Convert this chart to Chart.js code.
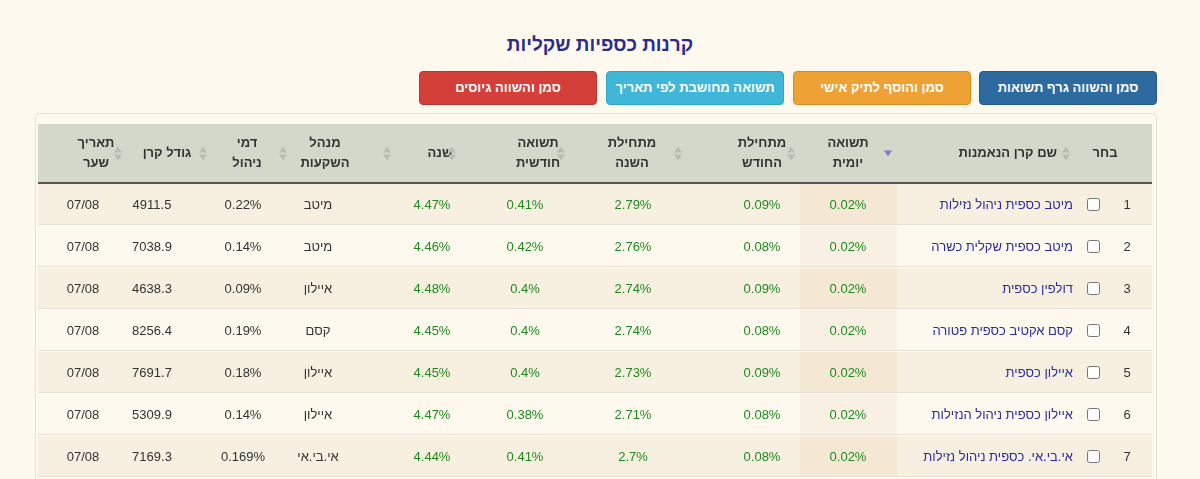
<!DOCTYPE html>
<html><head><meta charset="utf-8">
<script src="https://cdn.jsdelivr.net/npm/chart.js@4"></script>
<style>
body{margin:0;background:#fdf9ee;font-family:Arial,"Liberation Sans",sans-serif;width:1200px;height:479px;overflow:hidden;position:relative}
#title{position:absolute;top:34px;left:0;width:1200px;text-align:center;color:#2b2b8c;font-weight:bold;font-size:19px;direction:rtl}
.btn{position:absolute;top:71px;height:32px;width:176px;border-radius:4px;color:#fff;font-weight:bold;font-size:13px;line-height:32px;text-align:center;direction:rtl}
#box{position:absolute;left:35px;top:113px;width:1120px;height:380px;border:1px solid #e8e2d0;border-radius:4px;background:#fdf9ee}
#wrap{position:absolute;left:38px;top:124px;width:1114px;height:355px}
</style></head><body>
<div id="title">קרנות כספיות שקליות</div>
<div class="btn" style="left:979px;background:#2d6aa0;border:1px solid #255a88">סמן והשווה גרף תשואות</div>
<div class="btn" style="left:793px;background:#eea236;border:1px solid #d58f20">סמן והוסף לתיק אישי</div>
<div class="btn" style="left:606px;background:#40b7d8;border:1px solid #30a5c5">תשואה מחושבת לפי תאריך</div>
<div class="btn" style="left:419px;background:#d43f3a;border:1px solid #b83530">סמן והשווה גיוסים</div>
<div id="box"></div>
<div id="wrap"><canvas id="c"></canvas></div>
<script>
const headers=["בחר","שם קרן הנאמנות","תשואה|יומית","מתחילת|החודש","מתחילת|השנה","תשואה|חודשית","שנה","מנהל|השקעות","דמי|ניהול","גודל קרן","תאריך|שער"];
const fundNames=["מיטב כספית ניהול נזילות","מיטב כספית שקלית כשרה","דולפין כספית","קסם אקטיב כספית פטורה","איילון כספית","איילון כספית ניהול הנזילות","אי.בי.אי. כספית ניהול נזילות"];
const dailyReturn=["0.02%","0.02%","0.02%","0.02%","0.02%","0.02%","0.02%"];
const monthToDate=["0.09%","0.08%","0.09%","0.08%","0.09%","0.08%","0.08%"];
const yearToDate=["2.79%","2.76%","2.74%","2.74%","2.73%","2.71%","2.7%"];
const monthlyReturn=["0.41%","0.42%","0.4%","0.4%","0.4%","0.38%","0.41%"];
const yearReturn=["4.47%","4.46%","4.48%","4.45%","4.45%","4.47%","4.44%"];
const managers=["מיטב","מיטב","איילון","קסם","איילון","איילון","אי.בי.אי"];
const fees=["0.22%","0.14%","0.09%","0.19%","0.18%","0.14%","0.169%"];
const fundSize=["4911.5","7038.9","4638.3","8256.4","7691.7","5309.9","7169.3"];
const rateDate=["07/08","07/08","07/08","07/08","07/08","07/08","07/08"];

// layout (x-scale units = px from table left)
const cellX=[1089,1035,810,724,595,487,394,280,205,114,45];
const headX=[1067,1019,810,724,594,500,402,287,209,129,58];
const iconX=[null,1028,850,753,640,523,414,349,245,165,80];
const sortedCol=[762,859];
const headH=59,rowH=42;
const rows=fundNames.map((n,i)=>[String(i+1),n,dailyReturn[i],monthToDate[i],yearToDate[i],monthlyReturn[i],yearReturn[i],managers[i],fees[i],fundSize[i],rateDate[i]]);
const colColor=["#333","#2b2ba0","#1e8a1e","#1e8a1e","#1e8a1e","#1e8a1e","#1e8a1e","#333","#333","#333","#333"];

const tablePlugin={id:'tbl',beforeDatasetsDraw(ch){
  const c=ch.ctx,x=ch.scales.x,y=ch.scales.y;
  const X=v=>x.getPixelForValue(v),Y=v=>y.getPixelForValue(v);
  c.save();
  c.fillStyle="#d3d8cb";c.fillRect(X(0),Y(0),X(1114)-X(0),Y(headH)-Y(0));
  c.fillStyle="#555";c.fillRect(X(0),Y(headH)-1,X(1114)-X(0),2);
  rows.forEach((r,i)=>{
    const y0=Y(headH+i*rowH),y1=Y(headH+(i+1)*rowH);
    c.fillStyle=i%2===0?"#f7f0e1":"#fdf9ef";c.fillRect(X(0),y0+1,X(1114)-X(0),y1-y0-1);
    c.fillStyle=i%2===0?"#f4e8d5":"#f8f0e2";c.fillRect(X(sortedCol[0]),y0+1,X(sortedCol[1])-X(sortedCol[0]),y1-y0-1);
    c.fillStyle="#e6e2d8";c.fillRect(X(0),y1-1,X(1114)-X(0),1);
    const ym=(y0+y1)/2+1;
    c.textBaseline="middle";c.font="13px Arial, 'Liberation Sans'";
    r.forEach((t,j)=>{
      const cx=X(cellX[j]);
      if(j===0){
        c.fillStyle="#333";c.textAlign="center";c.fillText(t,cx,ym);
        c.strokeStyle="#777";c.lineWidth=1;c.beginPath();c.roundRect(X(1049)+0.5,ym-6.5,12,12,2);c.fillStyle="#fff";c.fill();c.stroke();
      }else{
        c.fillStyle=colColor[j];c.direction="rtl";c.textAlign=j===1?"right":"center";c.fillText(t,cx,ym);c.direction="ltr";
      }
    });
  });
  c.font="bold 13px Arial, 'Liberation Sans'";c.textBaseline="middle";c.direction="rtl";
  headers.forEach((h,j)=>{
    const parts=h.split("|");const ym=Y(headH/2);
    c.fillStyle="#333";c.textAlign=j===1?"right":"center";
    parts.forEach((p,k)=>c.fillText(p,X(headX[j]),ym+(k-(parts.length-1)/2)*20));
    if(iconX[j]===null)return;
    const icx=X(iconX[j]);
    if(j===2){c.fillStyle="#7f7fd0";c.beginPath();c.moveTo(icx-4,ym-3);c.lineTo(icx+4,ym-3);c.lineTo(icx,ym+3);c.fill();}
    else{c.fillStyle="#b8bcb2";c.beginPath();c.moveTo(icx-4,ym-1);c.lineTo(icx+4,ym-1);c.lineTo(icx,ym-7);c.fill();
      c.beginPath();c.moveTo(icx-4,ym+1);c.lineTo(icx+4,ym+1);c.lineTo(icx,ym+7);c.fill();}
  });
  c.restore();
}};
new Chart(document.getElementById('c'),{type:'scatter',data:{datasets:[{data:[],pointRadius:0}]},
 options:{responsive:true,maintainAspectRatio:false,animation:false,layout:{padding:0},
  plugins:{legend:{display:false},tooltip:{enabled:false}},
  scales:{x:{type:'linear',min:0,max:1114,display:false},y:{type:'linear',min:0,max:355,reverse:true,display:false}}},
 plugins:[tablePlugin]});
</script></body></html>
